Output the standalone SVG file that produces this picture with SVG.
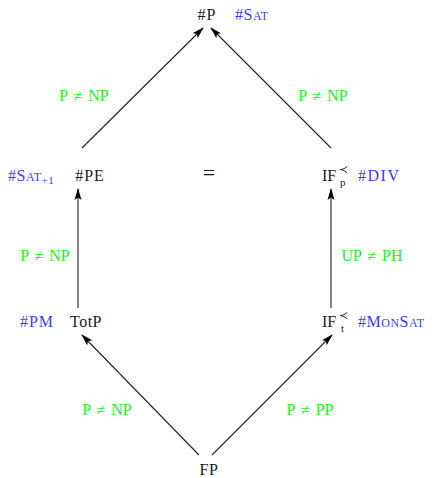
<svg xmlns="http://www.w3.org/2000/svg" width="436" height="478" viewBox="0 0 436 478">
<defs>
<marker id="arr" viewBox="0 0 12 8" refX="11" refY="4" markerWidth="12" markerHeight="8" markerUnits="userSpaceOnUse" orient="auto">
<path d="M0,0.5 L12,4 L0,7.5 L2.5,4 Z" fill="#000"/>
</marker>
</defs>
<style>
text{font-family:"Liberation Serif","DejaVu Serif",serif;font-size:16px}
.n{fill:#1a1a1a}
.b{fill:#3b3bff}
.g{fill:#22ee22}
.sc{font-size:12px}
.sm{font-size:11px}
.ss{font-size:11px}
.e{stroke:#222;stroke-width:1.1;fill:none;marker-end:url(#arr)}
</style>
<rect width="436" height="478" fill="#fff"/>
<g id="edges">
<path class="e" d="M82,148 L203,28"/>
<path class="e" d="M331,148 L211,28"/>
<path class="e" d="M78,308 L78,189"/>
<path class="e" d="M331,308 L331,189"/>
<path class="e" d="M199,455 L82,335"/>
<path class="e" d="M212,455 L332,335"/>
<text class="g" x="84" y="101" text-anchor="middle" word-spacing="2">P ≠ NP</text>
<text class="g" x="323" y="101" text-anchor="middle" word-spacing="2">P ≠ NP</text>
<text class="g" x="45" y="261" text-anchor="middle" word-spacing="2">P ≠ NP</text>
<text class="g" x="372" y="261" text-anchor="middle" word-spacing="2">UP ≠ PH</text>
<text class="g" x="107" y="415" text-anchor="middle" word-spacing="2">P ≠ NP</text>
<text class="g" x="310" y="415" text-anchor="middle" word-spacing="2">P ≠ PP</text>
</g>
<g id="nP">
<text class="n" x="207" y="20" text-anchor="middle" letter-spacing="1">#P</text>
<text class="b" x="235" y="20" letter-spacing="0.5">#S<tspan class="sc">AT</tspan></text>
</g>
<g id="nPE">
<text class="n" x="90" y="181" text-anchor="middle" letter-spacing="1">#PE</text>
<text class="b" x="8" y="181" letter-spacing="0.5">#S<tspan class="sc">AT</tspan><tspan class="sm" dy="3">+1</tspan></text>
</g>
<g id="eq">
<text class="n" x="209" y="180" text-anchor="middle" style="font-size:22px">=</text>
</g>
<g id="nIFp">
<text class="n" x="322" y="181">IF</text>
<text class="n ss" x="339" y="173">≺</text>
<text class="n ss" x="340" y="186">p</text>
<text class="b" x="358" y="181" letter-spacing="1.5">#DIV</text>
</g>
<g id="nTotP">
<text class="n" x="86" y="327" text-anchor="middle" letter-spacing="0.5">TotP</text>
<text class="b" x="37" y="327" text-anchor="middle" letter-spacing="1">#PM</text>
</g>
<g id="nIFt">
<text class="n" x="322" y="327">IF</text>
<text class="n ss" x="339" y="319">≺</text>
<text class="n ss" x="341" y="332">t</text>
<text class="b" x="358" y="327" letter-spacing="0.5">#M<tspan class="sc">ON</tspan>S<tspan class="sc">AT</tspan></text>
</g>
<g id="nFP">
<text class="n" x="209" y="475" text-anchor="middle" letter-spacing="0.5">FP</text>
</g>
</svg>
